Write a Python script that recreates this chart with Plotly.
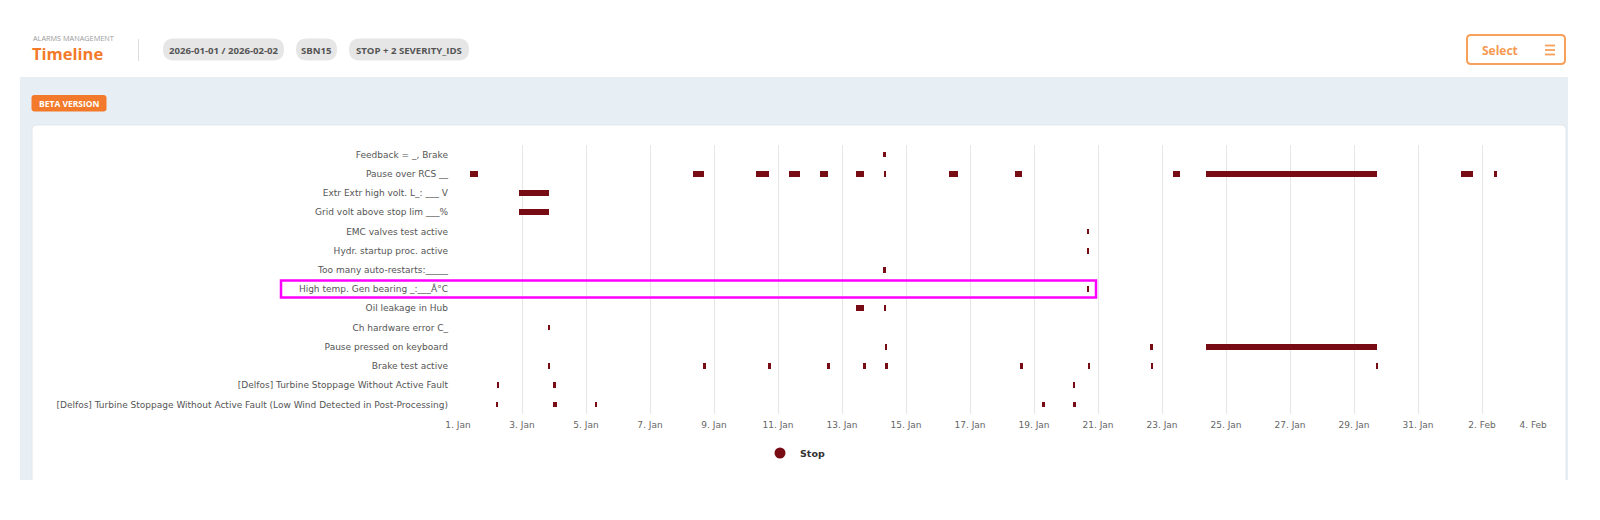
import pandas as pd
import plotly.graph_objects as go

# ---------------- data ----------------
alarm_names = [
    "Feedback = _, Brake",
    "Pause over RCS __",
    "Extr Extr high volt. L_: ___ V",
    "Grid volt above stop lim ___%",
    "EMC valves test active",
    "Hydr. startup proc. active",
    "Too many auto-restarts:_____",
    "High temp. Gen bearing _:___Â°C",
    "Oil leakage in Hub",
    "Ch hardware error C_",
    "Pause pressed on keyboard",
    "Brake test active",
    "[Delfos] Turbine Stoppage Without Active Fault",
    "[Delfos] Turbine Stoppage Without Active Fault (Low Wind Detected in Post-Processing)",
]

event_row = [
    0,
    1, 1, 1, 1, 1, 1, 1, 1, 1, 1, 1, 1, 1,
    2, 3, 4, 5, 6, 7,
    8, 8,
    9,
    10, 10, 10,
    11, 11, 11, 11, 11, 11, 11, 11, 11, 11,
    12, 12, 12,
    13, 13, 13, 13, 13,
]
event_start = [
    "2026-01-14 07:00",
    "2026-01-01 09:20", "2026-01-08 08:10", "2026-01-10 07:10", "2026-01-11 08:10",
    "2026-01-12 07:25", "2026-01-13 10:35", "2026-01-14 07:25", "2026-01-16 08:10",
    "2026-01-18 09:50", "2026-01-23 08:10", "2026-01-24 08:40", "2026-02-01 07:55",
    "2026-02-02 09:20",
    "2026-01-02 22:05", "2026-01-02 22:05", "2026-01-20 15:30", "2026-01-20 15:30",
    "2026-01-14 07:00", "2026-01-20 15:30",
    "2026-01-13 10:35", "2026-01-14 07:25",
    "2026-01-03 19:10",
    "2026-01-14 08:00", "2026-01-22 15:00", "2026-01-24 09:05",
    "2026-01-03 19:10", "2026-01-08 15:50", "2026-01-10 16:45", "2026-01-12 12:55",
    "2026-01-13 15:50", "2026-01-14 08:20", "2026-01-18 13:40", "2026-01-20 16:15",
    "2026-01-22 15:35", "2026-01-29 16:15",
    "2026-01-02 05:00", "2026-01-03 23:15", "2026-01-20 05:00",
    "2026-01-02 04:15", "2026-01-03 23:30", "2026-01-05 06:25", "2026-01-19 06:00",
    "2026-01-20 05:15",
]
event_end = [
    "2026-01-14 09:00",
    "2026-01-01 14:40", "2026-01-08 16:20", "2026-01-10 17:15", "2026-01-11 16:50",
    "2026-01-12 13:40", "2026-01-13 16:35", "2026-01-14 09:20", "2026-01-16 15:20",
    "2026-01-18 14:40", "2026-01-23 13:25", "2026-01-29 17:00", "2026-02-01 17:15",
    "2026-02-02 11:30",
    "2026-01-03 20:25", "2026-01-03 20:25", "2026-01-20 17:30", "2026-01-20 17:30",
    "2026-01-14 09:00", "2026-01-20 17:30",
    "2026-01-13 16:50", "2026-01-14 09:20",
    "2026-01-03 21:10",
    "2026-01-14 10:00", "2026-01-22 17:00", "2026-01-29 17:00",
    "2026-01-03 21:10", "2026-01-08 17:50", "2026-01-10 18:45", "2026-01-12 14:55",
    "2026-01-13 17:50", "2026-01-14 10:20", "2026-01-18 15:40", "2026-01-20 18:15",
    "2026-01-22 17:35", "2026-01-29 18:15",
    "2026-01-02 07:00", "2026-01-04 01:15", "2026-01-20 07:00",
    "2026-01-02 06:15", "2026-01-04 02:25", "2026-01-05 08:25", "2026-01-19 08:00",
    "2026-01-20 07:15",
]

x_tick_dates = pd.date_range("2026-01-01", "2026-02-04", freq="2D")
x_tick_labels = ["1. Jan", "3. Jan", "5. Jan", "7. Jan", "9. Jan", "11. Jan", "13. Jan",
                 "15. Jan", "17. Jan", "19. Jan", "21. Jan", "23. Jan", "25. Jan",
                 "27. Jan", "29. Jan", "31. Jan", "2. Feb", "4. Feb"]

series_name = "Stop"
header_chips = ["2026-01-01 / 2026-02-02", "SBN15", "STOP + 2 SEVERITY_IDS"]

# ---------------- layout geometry ----------------
# page coordinates are used below; the page body has an 8px margin.
OFF = 8
FIG_W, FIG_H = 1584, 504
ML = 458 - OFF
MT = 145 - OFF
PW = 1088
PH = 269
MR = FIG_W - ML - PW
PBOT = MT + PH
MB = FIG_H - PBOT


def px(x):
    return (x - OFF - ML) / PW


def py(y):
    return (PBOT - (y - OFF)) / PH


def rrect_path(x0, y0, x1, y1, r):
    rx, ry = r / PW, r / PH
    X0, X1, Y0, Y1 = px(x0), px(x1), py(y0), py(y1)
    return (f"M {X0+rx},{Y0} L {X1-rx},{Y0} Q {X1},{Y0} {X1},{Y0-ry} "
            f"L {X1},{Y1+ry} Q {X1},{Y1} {X1-rx},{Y1} L {X0+rx},{Y1} "
            f"Q {X0},{Y1} {X0},{Y1+ry} L {X0},{Y0-ry} Q {X0},{Y0} {X0+rx},{Y0} Z")


BAR_COLOR = "#770c14"
ORANGE = "#f37a2a"

starts = pd.to_datetime(pd.Series(event_start))
ends = pd.to_datetime(pd.Series(event_end))
durations_ms = ((ends - starts).dt.total_seconds() * 1000).tolist()
rows = [alarm_names[i] for i in event_row]

# last tick label is justified inside the plot (right-aligned at the edge)
tick_text = list(x_tick_labels)
tick_text[-1] = tick_text[-1] + "\u00a0" * 9

fig = go.Figure()
fig.add_trace(go.Bar(
    orientation="h",
    base=[s.strftime("%Y-%m-%d %H:%M") for s in starts],
    x=durations_ms,
    y=rows,
    width=0.3,
    marker=dict(color=BAR_COLOR, line=dict(width=0)),
    name=series_name,
    showlegend=False,
))
fig.add_trace(go.Scatter(
    x=[None], y=[None], mode="markers", name=series_name,
    marker=dict(color=BAR_COLOR, size=11, symbol="circle"),
    showlegend=True,
))

shapes = []
shapes.append(dict(type="rect", xref="paper", yref="paper", layer="below",
                   x0=px(20), x1=px(1568), y0=py(77), y1=py(480),
                   fillcolor="#e7eef4", line=dict(width=0)))
shapes.append(dict(type="path", xref="paper", yref="paper", layer="below",
                   path=rrect_path(32, 125, 1566, 500, 4),
                   fillcolor="#ffffff", line=dict(color="#e2e7ec", width=1)))
shapes.append(dict(type="rect", xref="paper", yref="paper", layer="below",
                   x0=px(0), x1=px(1600), y0=py(480), y1=py(530),
                   fillcolor="#ffffff", line=dict(width=0)))
shapes.append(dict(type="line", xref="paper", yref="paper", layer="below",
                   x0=px(138.5), x1=px(138.5), y0=py(39), y1=py(61),
                   line=dict(color="#dddddd", width=1)))
chip_boxes = [(163, 284), (296, 337), (349, 469)]
for (a, b_), label in zip(chip_boxes, header_chips):
    shapes.append(dict(type="path", xref="paper", yref="paper", layer="below",
                       path=rrect_path(a, 38.5, b_, 60.5, 11),
                       fillcolor="#e6e6e6", line=dict(width=0)))
shapes.append(dict(type="path", xref="paper", yref="paper", layer="below",
                   path=rrect_path(31.5, 95, 106.5, 111.5, 3),
                   fillcolor=ORANGE, line=dict(width=0)))
shapes.append(dict(type="path", xref="paper", yref="paper", layer="below",
                   path=rrect_path(1467, 35, 1565, 64, 4),
                   fillcolor="#ffffff", line=dict(color="#f8a05a", width=2)))
for yy in (45.5, 50, 54.5):
    shapes.append(dict(type="line", xref="paper", yref="paper", layer="below",
                       x0=px(1545), x1=px(1555), y0=py(yy), y1=py(yy),
                       line=dict(color="#f8a05a", width=1.8)))
shapes.append(dict(type="rect", xref="paper", yref="paper", layer="above",
                   x0=px(281), x1=px(1096), y0=py(280.5), y1=py(297.5),
                   fillcolor="rgba(0,0,0,0)", line=dict(color="#ff00ff", width=2.5)))

annotations = [
    dict(text="ALARMS MANAGEMENT", x=px(31), y=py(38.5), xanchor="left", yanchor="middle",
         font=dict(family="Open Sans", size=7.3, color="#9a9a9a")),
    dict(text="<b>Timeline</b>", x=px(30), y=py(54), xanchor="left", yanchor="middle",
         font=dict(family="Open Sans", size=16.5, color=ORANGE)),
    dict(text="<b>BETA VERSION</b>", x=px(69), y=py(103.3), xanchor="center", yanchor="middle",
         font=dict(family="Open Sans", size=8.5, color="#ffffff")),
    dict(text="<b>Select</b>", x=px(1500), y=py(50), xanchor="center", yanchor="middle",
         font=dict(family="Open Sans", size=12, color="#f59a52")),
]
for (a, b_), label in zip(chip_boxes, header_chips):
    annotations.append(dict(text=f"<b>{label}</b>", x=px((a + b_) / 2), y=py(50),
                            xanchor="center", yanchor="middle",
                            font=dict(family="Open Sans", size=9.6, color="#555555")))
for a in annotations:
    a.update(xref="paper", yref="paper", showarrow=False)

fig.update_layout(
    width=FIG_W, height=FIG_H,
    margin=dict(l=ML, r=MR, t=MT, b=MB, pad=0),
    paper_bgcolor="#ffffff", plot_bgcolor="rgba(0,0,0,0)",
    font=dict(family="DejaVu Sans", size=9, color="#666666"),
    shapes=shapes, annotations=annotations,
    bargap=0,
    legend=dict(orientation="h", x=px(760), y=py(453), xanchor="left", yanchor="middle",
                font=dict(family="DejaVu Sans", size=9.5, color="#333333", weight="bold"),
                bgcolor="rgba(0,0,0,0)", itemsizing="trace"),
)
fig.update_xaxes(
    type="date", range=["2026-01-01", "2026-02-04"],
    tickvals=list(x_tick_dates), ticktext=tick_text,
    showgrid=True, gridcolor="#e6e6e6", gridwidth=1,
    zeroline=False, showline=False, ticks="",
    ticklabelstandoff=4,
    tickfont=dict(family="DejaVu Sans", size=9, color="#666666"),
    fixedrange=True,
)
fig.update_yaxes(
    type="category", categoryorder="array", categoryarray=alarm_names,
    range=[len(alarm_names) - 0.5, -0.5],
    showgrid=False, zeroline=False, showline=False, ticks="",
    ticklabelstandoff=9,
    tickfont=dict(family="DejaVu Sans", size=9, color="#555555"),
    fixedrange=True,
)

fig.write_html("out.html")
